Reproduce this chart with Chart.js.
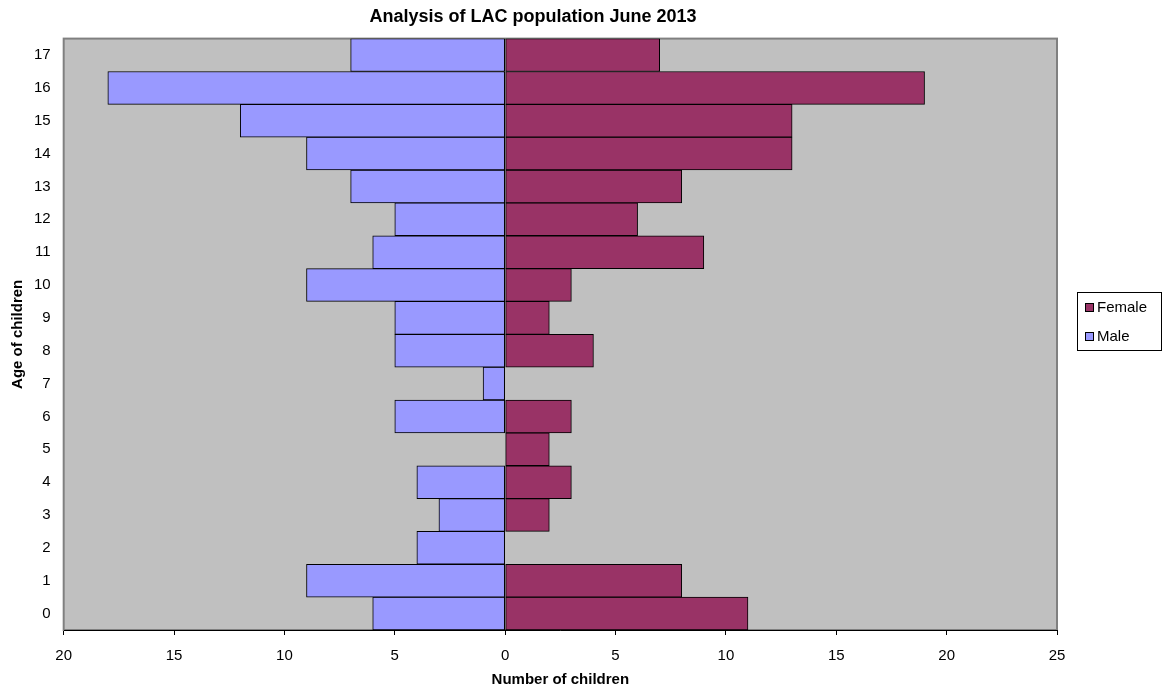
<!DOCTYPE html>
<html>
<head>
<meta charset="utf-8">
<script src="https://cdn.jsdelivr.net/npm/chart.js@4"></script>
<style>
  html, body { margin: 0; padding: 0; background: #fff; }
  #wrap { width: 1167px; height: 690px; }
</style>
</head>
<body>
<div id="wrap"><canvas id="myChart"></canvas></div>
<script>
// Ages (bottom to top) and counts per sex
const ages = ['0','1','2','3','4','5','6','7','8','9','10','11','12','13','14','15','16','17'];
const male = [6, 9, 4, 3, 4, 0, 5, 1, 5, 5, 9, 6, 5, 7, 9, 12, 18, 7];
const female = [11, 8, 0, 2, 3, 2, 3, 0, 4, 2, 3, 9, 6, 8, 13, 13, 19, 7];

const xTicks = [-20, -15, -10, -5, 0, 5, 10, 15, 20, 25];

const FONT = 'Arial, "Liberation Sans", sans-serif';
Chart.defaults.font.family = FONT;
Chart.defaults.color = '#000';

// grey plot area + boxed legend on the right
const plotBg = {
    id: 'plotBg',
    beforeDraw(chart) {
        const { ctx, chartArea: a } = chart;
        ctx.save();
        ctx.fillStyle = '#c0c0c0';
        ctx.fillRect(a.left, a.top, a.width, a.height);
        ctx.strokeStyle = '#808080';
        ctx.lineWidth = 2;
        ctx.strokeRect(a.left, a.top, a.width, a.height);
        ctx.restore();
    },
    afterDraw(chart) {
        const { ctx, chartArea: a } = chart;
        const sets = chart.data.datasets;
        const x0 = Math.round(a.right) + 20;
        const w = 84, rowH = 29;
        const h = 58;
        const y0 = Math.round((a.top + a.bottom) / 2) - 13 - h / 2;
        ctx.save();
        ctx.fillStyle = '#fff';
        ctx.fillRect(x0, y0, w, h);
        ctx.strokeStyle = '#000';
        ctx.lineWidth = 1;
        ctx.strokeRect(x0 + 0.5, y0 + 0.5, w, h);
        ctx.font = '15px ' + FONT;
        ctx.textBaseline = 'middle';
        sets.forEach((ds, i) => {
            const cy = y0 + 15 + i * rowH;
            ctx.fillStyle = ds.backgroundColor;
            ctx.fillRect(x0 + 8, cy - 4, 8, 8);
            ctx.strokeStyle = '#000';
            ctx.strokeRect(x0 + 8.5, cy - 3.5, 8, 8);
            ctx.fillStyle = '#000';
            ctx.fillText(ds.label, x0 + 20, cy + 1);
        });
        ctx.restore();
    }
};

const ctx = document.getElementById('myChart');

new Chart(ctx, {
    type: 'bar',
    data: {
        labels: ages,
        datasets: [{
            label: 'Female',
            data: female,
            backgroundColor: '#993366',
            borderColor: '#000',
            borderWidth: 1,
            borderSkipped: false,
            barPercentage: 1,
            categoryPercentage: 1
        }, {
            label: 'Male',
            data: male.map(v => -v),
            backgroundColor: '#9999ff',
            borderColor: '#000',
            borderWidth: 1,
            borderSkipped: false,
            barPercentage: 1,
            categoryPercentage: 1
        }]
    },
    options: {
        indexAxis: 'y',
        responsive: true,
        maintainAspectRatio: false,
        animation: false,
        layout: { padding: { left: 9, right: 110, top: 0, bottom: 1 } },
        plugins: {
            title: {
                display: true,
                text: 'Analysis of LAC population June 2013',
                font: { size: 18, weight: 'bold' },
                padding: { top: 6, bottom: 11 }
            },
            legend: { display: false },
            tooltip: { enabled: false }
        },
        scales: {
            x: {
                stacked: true,
                min: -20,
                max: 25,
                afterBuildTicks(axis) {
                    axis.ticks = xTicks.map(v => ({ value: v }));
                },
                ticks: {
                    callback: v => Math.abs(v),
                    font: { size: 15 },
                    padding: 12,
                    maxRotation: 0
                },
                grid: {
                    drawOnChartArea: false,
                    drawTicks: true,
                    tickLength: 5,
                    color: '#000'
                },
                border: { color: '#000', width: 1 },
                title: {
                    display: true,
                    text: 'Number of children',
                    font: { size: 15, weight: 'bold' },
                    padding: { top: -6, bottom: 0 }
                }
            },
            y: {
                stacked: true,
                reverse: true,
                ticks: {
                    font: { size: 15 },
                    padding: 13
                },
                grid: { display: false, drawTicks: false },
                border: { color: '#808080', width: 1 },
                title: {
                    display: true,
                    text: 'Age of children',
                    font: { size: 15, weight: 'bold' },
                    padding: { top: 0, bottom: -6 }
                }
            }
        }
    },
    plugins: [plotBg]
});
</script>
</body>
</html>
